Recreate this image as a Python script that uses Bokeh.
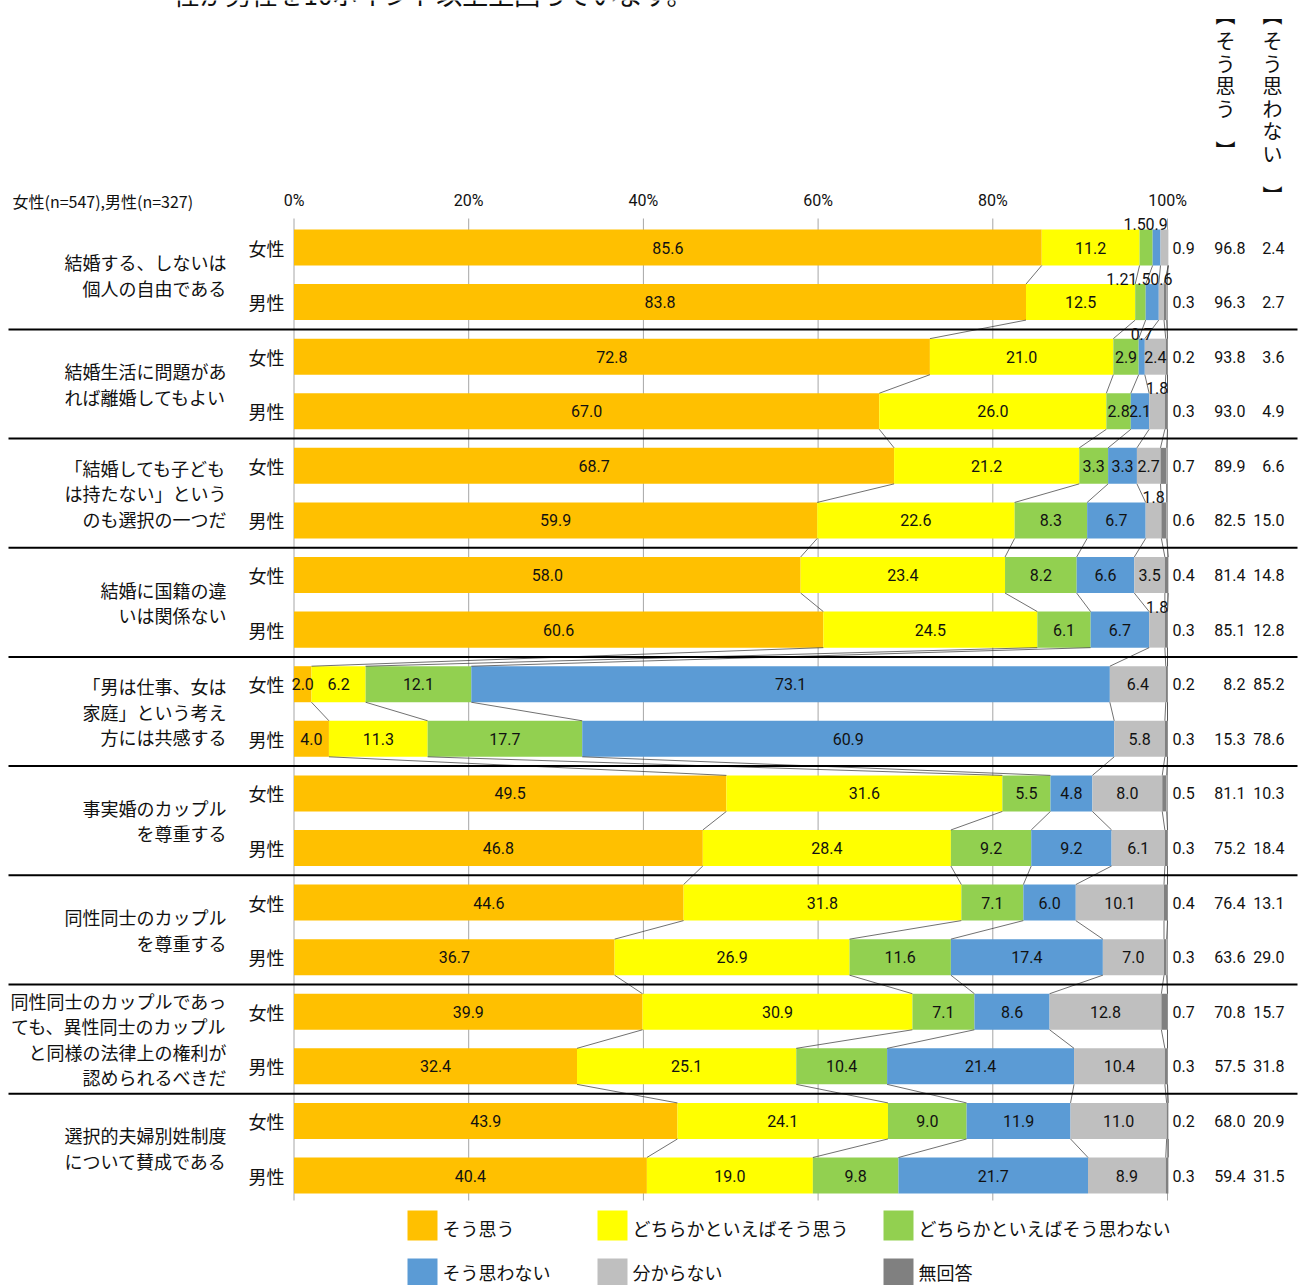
from bokeh.plotting import figure
from bokeh.models import Range1d
from bokeh.core.properties import value
from bokeh.embed import file_html
from bokeh.resources import INLINE

# ---------------- data ----------------
items = [
    ["結婚する、しないは", "個人の自由である"],
    ["結婚生活に問題があ", "れば離婚してもよい"],
    ["「結婚しても子ども", "は持たない」という", "のも選択の一つだ"],
    ["結婚に国籍の違", "いは関係ない"],
    ["「男は仕事、女は", "家庭」という考え", "方には共感する"],
    ["事実婚のカップル", "を尊重する"],
    ["同性同士のカップル", "を尊重する"],
    ["同性同士のカップルであっ", "ても、異性同士のカップル", "と同様の法律上の権利が", "認められるべきだ"],
    ["選択的夫婦別姓制度", "について賛成である"],
]
genders = ["女性", "男性"]
series = ["そう思う", "どちらかといえばそう思う", "どちらかといえばそう思わない",
          "そう思わない", "分からない", "無回答"]
colors = ["#FFC000", "#FFFF00", "#92D050", "#5B9BD5", "#BFBFBF", "#808080"]

sou_omou = [85.6, 83.8, 72.8, 67.0, 68.7, 59.9, 58.0, 60.6, 2.0, 4.0, 49.5, 46.8, 44.6, 36.7, 39.9, 32.4, 43.9, 40.4]
dochiraka_omou = [11.2, 12.5, 21.0, 26.0, 21.2, 22.6, 23.4, 24.5, 6.2, 11.3, 31.6, 28.4, 31.8, 26.9, 30.9, 25.1, 24.1, 19.0]
dochiraka_omowanai = [1.5, 1.2, 2.9, 2.8, 3.3, 8.3, 8.2, 6.1, 12.1, 17.7, 5.5, 9.2, 7.1, 11.6, 7.1, 10.4, 9.0, 9.8]
omowanai = [0.9, 1.5, 0.7, 2.1, 3.3, 6.7, 6.6, 6.7, 73.1, 60.9, 4.8, 9.2, 6.0, 17.4, 8.6, 21.4, 11.9, 21.7]
wakaranai = [0.9, 0.6, 2.4, 1.8, 2.7, 1.8, 3.5, 1.8, 6.4, 5.8, 8.0, 6.1, 10.1, 7.0, 12.8, 10.4, 11.0, 8.9]
mukaitou = [0.0, 0.3, 0.2, 0.3, 0.7, 0.6, 0.4, 0.3, 0.2, 0.3, 0.5, 0.3, 0.4, 0.3, 0.7, 0.3, 0.2, 0.3]
total_omou = [96.8, 96.3, 93.8, 93.0, 89.9, 82.5, 81.4, 85.1, 8.2, 15.3, 81.1, 75.2, 76.4, 63.6, 70.8, 57.5, 68.0, 59.4]
total_omowanai = [2.4, 2.7, 3.6, 4.9, 6.6, 15.0, 14.8, 12.8, 85.2, 78.6, 10.3, 18.4, 13.1, 29.0, 15.7, 31.8, 20.9, 31.5]
x_ticks = [0, 20, 40, 60, 80, 100]
sample_note = "女性(n=547),男性(n=327)"
head_col1 = ["︻", "そ", "う", "思", "う", "︼"]
head_col2 = ["︻", "そ", "う", "思", "わ", "な", "い", "︼"]
top_text = "性が男性を10ポイント以上上回っています。"

# ---------------- layout ----------------
W, H = 1299, 1285
X0, SX = 293.5, 8.735        # pixel of 0%, pixels per %
Y0, SY = 247.0, 54.59        # pixel of first bar centre, pixels per bar
BAR_H = 0.66

def dx(px):
    return (px - X0) / SX

def dy(py):
    return (py - Y0) / SY

JP = value("Noto Sans CJK JP")
NUM = value("Roboto")

p = figure(width=W, height=H, output_backend="svg", toolbar_location=None,
           x_range=Range1d(dx(0), dx(W)), y_range=Range1d(dy(H), dy(0)),
           x_axis_type=None, y_axis_type=None, min_border=0)
p.grid.visible = False
p.outline_line_color = None
p.background_fill_color = "white"

vals = [sou_omou, dochiraka_omou, dochiraka_omowanai, omowanai, wakaranai, mukaitou]
n = len(sou_omou)
ys = list(range(n))

# gridlines
p.segment(x0=x_ticks, x1=x_ticks, y0=[dy(218)] * len(x_ticks), y1=[dy(1200)] * len(x_ticks),
          line_color="#A6A6A6", line_width=1)

# stacked bars
cums = []
left = [0.0] * n
for k, v in enumerate(vals):
    right = [l + a for l, a in zip(left, v)]
    p.hbar(y=ys, left=left, right=right, height=BAR_H, fill_color=colors[k], line_color=None)
    cums.append(right)
    left = right

# series lines between consecutive bars
sx0, sx1, sy0, sy1 = [], [], [], []
for i in range(n - 1):
    for k in range(len(vals)):
        sx0.append(cums[k][i]); sy0.append(i + BAR_H / 2)
        sx1.append(cums[k][i + 1]); sy1.append(i + 1 - BAR_H / 2)
p.segment(x0=sx0, y0=sy0, x1=sx1, y1=sy1, line_color="#333333", line_width=0.7)

# separators between groups
sep_y = [2 * g + 1.5 for g in range(len(items) - 1)]
p.segment(x0=[dx(8)] * len(sep_y), x1=[dx(1297)] * len(sep_y), y0=sep_y, y1=sep_y,
          line_color="black", line_width=2)

# segment labels
in_x, in_y, in_t = [], [], []
ab_x, ab_y, ab_t = [], [], []
rt_y, rt_t = [], []
for i in range(n):
    row = [vals[k][i] for k in range(len(vals))]
    last = max(k for k in range(len(row)) if row[k] > 0)
    rt_y.append(i); rt_t.append(f"{row[last]:.1f}")
    small = []
    for k in range(len(row)):
        if k == last or row[k] <= 0:
            continue
        lft = cums[k][i] - row[k]
        c = lft + row[k] / 2
        if row[k] >= 2.0:
            in_x.append(c); in_y.append(i); in_t.append(f"{row[k]:.1f}")
        else:
            small.append((c, f"{row[k]:.1f}"))
    # spread labels above the bar
    pos = []
    nxt = None
    for c, t in reversed(small):
        x = c if nxt is None else min(c, nxt - 22.0 / SX)
        pos.append((x, t)); nxt = x
    for x, t in pos:
        ab_x.append(x); ab_y.append(i - BAR_H / 2); ab_t.append(t)

NUM_KW = dict(text_font=NUM, text_font_size="16px", text_color="#111111")
p.text(x=in_x, y=in_y, text=in_t, text_align="center", text_baseline="middle", **NUM_KW)
p.text(x=ab_x, y=ab_y, text=ab_t, text_align="center", text_baseline="bottom", y_offset=1, **NUM_KW)
p.text(x=[dx(1172)] * n, y=rt_y, text=rt_t, text_align="left", text_baseline="middle", **NUM_KW)
p.text(x=[dx(1245)] * n, y=ys, text=[f"{v:.1f}" for v in total_omou],
       text_align="right", text_baseline="middle", **NUM_KW)
p.text(x=[dx(1284)] * n, y=ys, text=[f"{v:.1f}" for v in total_omowanai],
       text_align="right", text_baseline="middle", **NUM_KW)

# gender labels
p.text(x=[dx(284)] * n, y=ys, text=[genders[i % 2] for i in range(n)], text_font=JP,
       text_font_size="18px", text_color="#111111", text_align="right", text_baseline="middle")

# item labels
LH = 25.5 / SY
ix, iy, it = [], [], []
for g, lines in enumerate(items):
    c = 2 * g + 0.5
    m = len(lines)
    for j, ln in enumerate(lines):
        ix.append(dx(226)); iy.append(c + (j - (m - 1) / 2) * LH); it.append(ln)
p.text(x=ix, y=iy, text=it, text_font=JP, text_font_size="18px", text_color="#111111",
       text_align="right", text_baseline="middle")

# axis percent labels
p.text(x=x_ticks, y=[dy(200)] * len(x_ticks), text=[f"{t}%" for t in x_ticks],
       text_align="center", text_baseline="middle", **NUM_KW)
p.text(x=[dx(12)], y=[dy(200)], text=[sample_note], text_font=JP, text_font_size="16px",
       text_color="#111111", text_align="left", text_baseline="middle")

# vertical headers
c1y = [14, 40, 62.5, 85, 107.5, 150]
c2y = [14, 40, 62.5, 85, 107.5, 130, 152.5, 195]
p.text(x=[dx(1225)] * len(head_col1), y=[dy(v) for v in c1y], text=head_col1, text_font=JP,
       text_font_size="20px", text_color="#111111", text_align="center", text_baseline="middle")
p.text(x=[dx(1272)] * len(head_col2), y=[dy(v) for v in c2y], text=head_col2, text_font=JP,
       text_font_size="20px", text_color="#111111", text_align="center", text_baseline="middle")

# cut-off sentence at top (as in the source page)
p.text(x=[dx(173)], y=[dy(11)], text=[top_text], text_font=JP, text_font_size="26px",
       text_color="#111111", text_align="left", text_baseline="bottom")

# legend
lx = [422, 612, 898, 422, 612, 898]
ly = [1225, 1225, 1225, 1273, 1273, 1273]
ty = [1227, 1227, 1227, 1271, 1271, 1271]
p.rect(x=[dx(v) for v in lx], y=[dy(v) for v in ly], width=30, height=30,
       width_units="screen", height_units="screen", fill_color=colors, line_color=None)
p.text(x=[dx(v + 20) for v in lx], y=[dy(v) for v in ty], text=series, text_font=JP,
       text_font_size="18px", text_color="#111111", text_align="left", text_baseline="middle")

open("out.html", "w").write(file_html(p, INLINE))
